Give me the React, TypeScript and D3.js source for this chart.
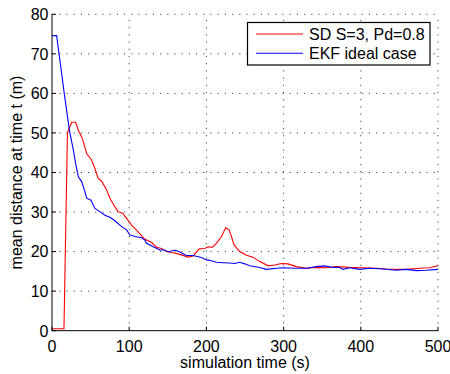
import React from "react";
import * as d3 from "d3";

const blueT = [0, 6, 16, 22.5, 27.6, 30.6, 34.1, 38.4, 42.7, 44.9, 50.5, 55.6, 62, 68.6, 75, 81.5, 90.2, 96.6, 101, 107.4, 116, 120.3, 122.5, 131, 139.7, 146, 150.5, 159, 165.6, 174, 182.8, 193.6, 200, 206.6, 213, 221.6, 230, 236.7, 243, 249.7, 256, 269, 277.7, 290.7, 299.2, 316.6, 329.5, 342.4, 353, 364, 372.6, 376.9, 385.5, 398.4, 411.4, 428.6, 445.9, 458.9, 471.8, 484.7, 500];
const blueV = [74.6, 74.6, 59.8, 50.7, 45.7, 42.3, 38.9, 37.7, 35.1, 33.5, 33.0, 30.9, 30.1, 29.2, 28.7, 27.8, 26.3, 25.5, 24.2, 23.8, 23.5, 22.9, 22.1, 21.2, 20.4, 20.4, 19.9, 20.4, 19.9, 19.0, 19.0, 18.5, 17.9, 17.7, 17.3, 17.2, 17.1, 17.0, 17.3, 16.9, 16.4, 16.0, 15.5, 15.8, 15.9, 15.8, 15.8, 16.2, 16.4, 16.0, 16.0, 15.5, 15.9, 15.5, 15.8, 15.6, 15.3, 15.5, 15.2, 15.3, 15.5];

const redT = [0, 15.5, 20, 25.5, 30.6, 34.1, 38.4, 40.5, 44.9, 51.4, 55.6, 59.9, 64.3, 70.8, 75, 81.5, 85.8, 91.4, 96.6, 103.1, 111.6, 120.3, 129, 135.4, 141.9, 148.4, 156.9, 165.6, 176.3, 182.8, 190.6, 197.9, 202.2, 207.9, 213, 219.5, 225.1, 229.4, 232.5, 235.8, 243.2, 251.9, 260.4, 268.2, 279.8, 288.5, 297.2, 305.7, 316.6, 329.5, 342.4, 355.4, 368.3, 385.5, 402.7, 420, 433, 446, 459, 476, 489, 500];
const redV = [0.5, 0.5, 50, 52.7, 52.7, 50.7, 49, 47.8, 44.8, 43.1, 41.0, 38.5, 37.8, 35.6, 33.5, 31.3, 30.1, 29.7, 28.4, 26.7, 25.0, 23.1, 22.3, 21.1, 20.8, 20.0, 19.7, 19.3, 18.6, 18.9, 20.7, 20.8, 21.2, 21.1, 22.1, 23.8, 26.1, 25.5, 23.8, 21.7, 20.0, 19.1, 18.6, 17.6, 16.4, 16.6, 17.0, 16.9, 16.2, 15.8, 16.0, 15.9, 16.2, 16.0, 15.9, 15.8, 15.6, 15.5, 15.5, 15.8, 15.9, 16.4];

const xTicks = [0, 100, 200, 300, 400, 500];
const yTicks = [0, 10, 20, 30, 40, 50, 60, 70, 80];
const legendLabels = ["SD S=3, Pd=0.8", "EKF ideal case"];
const xLabel = "simulation time (s)";
const yLabel = "mean distance at time t (m)";

const W = 450, H = 374;
const L = 52, R = 438, T = 14.3, B = 330.7;
const FONT = "'Liberation Sans', Arial, sans-serif";

export default function App() {
  const x = d3.scaleLinear().domain([0, 500]).range([L, R]);
  const y = d3.scaleLinear().domain([0, 80]).range([B, T]);
  const line = d3.line<[number, number]>().x(d => x(d[0])).y(d => y(d[1]));
  const blue = line(blueT.map((t, i) => [t, blueV[i]] as [number, number])) || "";
  const red = line(redT.map((t, i) => [t, redV[i]] as [number, number])) || "";
  const grid = "#444";
  const dash = "1.2,6";
  return (
    <svg width={W} height={H} style={{ position: "absolute", left: 0, top: 0, background: "#fff" }} fontFamily={FONT}>
      <rect x={0} y={0} width={W} height={H} fill="#fff" />
      {xTicks.filter(t => t > 0).map(t => (
        <line key={"gx" + t} x1={x(t)} x2={x(t)} y1={B} y2={T} stroke={grid} strokeWidth={1} strokeDasharray={dash} />
      ))}
      {yTicks.filter(t => t > 0).map(t => (
        <line key={"gy" + t} x1={L} x2={R} y1={y(t)} y2={y(t)} stroke={grid} strokeWidth={1} strokeDasharray={dash} />
      ))}
      <path d={red} fill="none" stroke="#ff0000" strokeWidth={1.1} />
      <path d={blue} fill="none" stroke="#0000ff" strokeWidth={1.1} />
      <line x1={L} x2={R} y1={B} y2={B} stroke="#000" strokeWidth={1} />
      <line x1={L} x2={L} y1={B} y2={T} stroke="#000" strokeWidth={1} />
      {xTicks.map(t => (
        <g key={"xt" + t}>
          <line x1={x(t)} x2={x(t)} y1={B} y2={B - 4} stroke="#000" strokeWidth={1} />
          <text x={x(t)} y={352} fontSize={16} textAnchor="middle" fill="#000">{t}</text>
        </g>
      ))}
      {yTicks.map(t => (
        <g key={"yt" + t}>
          <line x1={L} x2={L + 4} y1={y(t)} y2={y(t)} stroke="#000" strokeWidth={1} />
          <text x={48.5} y={y(t) + 5.8} fontSize={16} textAnchor="end" fill="#000">{t}</text>
        </g>
      ))}
      <text x={(L + R) / 2} y={368} fontSize={16} textAnchor="middle" fill="#000">{xLabel}</text>
      <text transform={`translate(22,${(T + B) / 2}) rotate(-90)`} fontSize={16} textAnchor="middle" fill="#000">{yLabel}</text>
      <rect x={247.5} y={22.5} width={182.5} height={42.5} fill="#fff" stroke="#000" strokeWidth={1.2} />
      <line x1={256} x2={303} y1={34} y2={34} stroke="#ff0000" strokeWidth={1.1} />
      <line x1={256} x2={303} y1={53.3} y2={53.3} stroke="#0000ff" strokeWidth={1.1} />
      <text x={309} y={39.5} fontSize={16} fill="#000">{legendLabels[0]}</text>
      <text x={309} y={59} fontSize={16} fill="#000">{legendLabels[1]}</text>
    </svg>
  );
}
